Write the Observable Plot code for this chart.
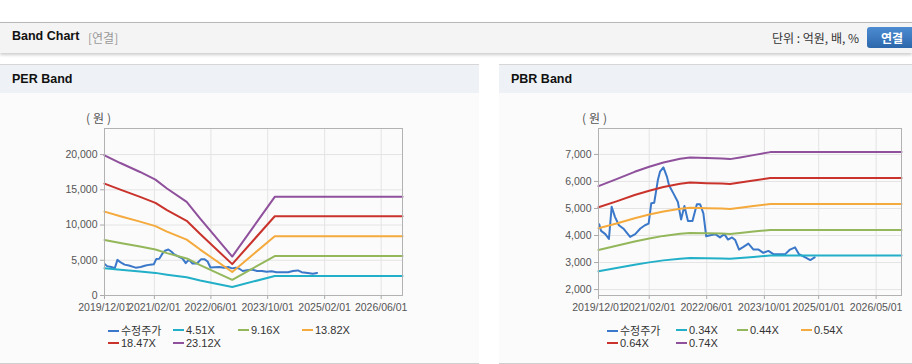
<!DOCTYPE html>
<html><head><meta charset="utf-8">
<script src="https://cdn.jsdelivr.net/npm/d3@7"></script>
<script src="https://cdn.jsdelivr.net/npm/@observablehq/plot@0.6"></script>
<style>
body{margin:0;width:912px;height:364px;position:relative;overflow:hidden;background:#fff;font-family:"Liberation Sans",Arial,"Noto Sans CJK KR",sans-serif;color:#222;}
.abs{position:absolute;white-space:nowrap;}
.hdr{position:absolute;left:0;top:22px;width:912px;height:30px;background:#f4f4f4;border-top:1px solid #b8b8b8;box-shadow:0 2px 3px rgba(0,0,0,.2);}
.panel{position:absolute;top:64px;height:298px;background:#fbfbfb;border-top:1px solid #d6d6d6;border-bottom:1px solid #cfcfcf;}
.ptitle{position:absolute;left:0;top:0;right:0;height:28px;background:#eef2f6;}
.bold{font-weight:bold;font-size:12.5px;color:#111;}
.kr{font-family:"Noto Sans CJK KR",sans-serif;}
.btn{position:absolute;left:867px;top:27px;width:50px;height:21px;border-radius:3px;background:linear-gradient(#4d8cd2,#2c67ab);color:#fff;font-weight:bold;font-size:12px;line-height:21px;text-align:center;}
.unit{font-family:"Noto Sans CJK KR",sans-serif;font-size:12px;color:#555;letter-spacing:3px;}
.lg{position:absolute;white-space:nowrap;font-size:11px;color:#333;line-height:13px;}
.lg i{display:inline-block;width:11px;height:2px;vertical-align:middle;margin-right:2px;position:relative;top:-1px;}
svg text{font-family:"Liberation Sans Narrow","Liberation Sans",Arial,sans-serif;}
</style></head>
<body>
<div class="hdr"></div>
<div class="abs bold" style="left:12px;top:29px;">Band Chart</div>
<div class="abs kr" style="left:88px;top:29px;font-size:12px;color:#999;">[연결]</div>
<div class="abs kr" style="right:53px;top:29px;font-size:12px;color:#333;">단위 : 억원, 배, %</div>
<div class="btn kr">연결</div>

<div class="panel" style="left:0;width:479px;"><div class="ptitle"></div></div>
<div class="panel" style="left:499px;width:413px;"><div class="ptitle"></div></div>
<div class="abs bold" style="left:12px;top:72px;">PER Band</div>
<div class="abs bold" style="left:511px;top:72px;">PBR Band</div>
<div class="abs unit" style="left:86px;top:109px;">(원)</div>
<div class="abs unit" style="left:582px;top:109px;">(원)</div>

<div id="per" class="abs" style="left:0;top:93px;"></div>
<div id="pbr" class="abs" style="left:499px;top:93px;"></div>
<div id="legends"></div>

<script>
// ---------- data ----------
const priceName = "수정주가";
const priceDates = ["2019-12-07","2019-12-23","2020-01-28","2020-02-27","2020-03-21","2020-04-18","2020-05-21","2020-06-27","2020-08-24","2020-10-06","2020-11-18","2020-12-27","2021-01-27","2021-02-18","2021-03-15","2021-04-15","2021-05-03","2021-06-01","2021-07-01","2021-07-18","2021-08-24","2021-10-01","2021-10-28","2021-11-25","2021-12-25","2022-02-01","2022-03-10","2022-04-06","2022-05-04","2022-05-28","2022-07-01","2022-08-12","2022-09-21","2022-10-28","2022-11-28","2023-01-01","2023-01-28","2023-03-01","2023-04-07","2023-05-19","2023-07-01","2023-08-13","2023-09-22","2023-11-04","2023-12-16","2024-03-25","2024-05-04","2024-06-16","2024-07-19","2024-09-10","2024-10-22","2024-11-28"];
const priceValues = [4420,4170,4050,3870,5060,4690,4380,4260,3950,4050,4260,4380,4440,5190,5210,6050,6360,6520,6170,5860,5560,5240,4590,5090,4540,4540,5160,5160,4820,3970,4010,4050,3930,4050,3850,3930,3830,3480,3580,3700,3480,3480,3360,3430,3310,3310,3480,3560,3310,3190,3090,3190];

const perBandDates = ["2019-12-01","2020-04-15","2020-10-01","2021-02-10","2021-05-20","2021-11-05","2022-03-01","2022-12-01","2023-12-01","2026-12-01"];
const perLabels = ["4.51X","9.16X","13.82X","18.47X","23.12X"];
const per451  = [3880,3670,3420,3210,2960,2590,2130,1200,2780,2780];
const per916  = [7890,7450,6940,6520,6010,5260,4320,2220,5600,5600];
const per1382 = [11900,11240,10480,9840,9070,7930,6520,3330,8420,8420];
const per1847 = [15880,15020,14000,13150,12120,10600,8720,4450,11250,11250];
const per2312 = [19900,18800,17530,16450,15180,13280,10920,5520,14000,14000];
const perYTicks = [0,5000,10000,15000,20000];
const perXTicks = ["2019-12-01","2021-02-01","2022-06-01","2023-10-01","2025-02-01","2026-06-01"];

const pbrBandDates = ["2019-12-01","2020-05-01","2020-10-01","2021-02-01","2021-06-01","2021-10-20","2022-01-12","2022-06-01","2022-10-07","2022-12-15","2023-03-10","2023-07-01","2023-11-20","2026-12-01"];
const pbrLabels = ["0.34X","0.44X","0.54X","0.64X","0.74X"];
const pbr034 = [2678,2797,2921,3006,3080,3143,3165,3154,3148,3137,3165,3205,3260,3260];
const pbr044 = [3465,3619,3780,3890,3986,4067,4096,4081,4074,4059,4096,4147,4205,4205];
const pbr054 = [4270,4442,4639,4775,4892,4991,5027,5009,5000,4982,5027,5090,5165,5165];
const pbr064 = [5045,5264,5498,5659,5798,5916,5958,5937,5926,5904,5958,6033,6125,6125];
const pbr074 = [5828,6087,6357,6543,6704,6840,6889,6864,6852,6827,6889,6975,7086,7086];
const pbrYTicks = [2000,3000,4000,5000,6000,7000];
const pbrXTicks = ["2019-12-01","2021-02-01","2022-06-01","2023-10-01","2025-01-01","2026-05-01"];

const xStart = "2019-12-01", xEnd = "2026-12-01";
const priceColor = "#3b78c9";
const bandColors = ["#22afc8","#93b75a","#f4aa3c","#c9332c","#8f509c"];

// ---------- build ----------
const toRows = (dates, values) => dates.map((d, i) => ({date: new Date(d), value: values[i]}));
const priceRows = toRows(priceDates, priceValues);

function bandPlot({bandDates, bands, yDomain, yTicks, xTicks, width, marginLeft, marginRight}) {
  const xt = xTicks.map(d => new Date(d));
  return Plot.plot({
    width, height: 230,
    marginLeft, marginRight, marginTop: 35, marginBottom: 28,
    style: {background: "transparent", fontSize: "10.5px", color: "#555"},
    x: {type: "utc", domain: [new Date(xStart), new Date(xEnd)]},
    y: {domain: yDomain},
    marks: [
      Plot.gridX(xt, {stroke: "#e4e4e4", strokeOpacity: 1}),
      Plot.gridY(yTicks, {stroke: "#e4e4e4", strokeOpacity: 1}),
      Plot.axisX(xt, {tickFormat: d3.utcFormat("%Y/%m/%d"), tickSize: 4, tickPadding: 4, stroke: "#aaa", fill: "#555", label: null}),
      Plot.axisY(yTicks, {tickFormat: d3.format(","), tickSize: 4, tickPadding: 3, stroke: "#aaa", fill: "#555", label: null}),
      Plot.line(priceRows, {x: "date", y: "value", stroke: priceColor, strokeWidth: 2}),
      ...bands.map((vals, i) => Plot.line(toRows(bandDates, vals), {x: "date", y: "value", stroke: bandColors[i], strokeWidth: 2})),
      Plot.frame({stroke: "#b2b2b2"})
    ]
  });
}

document.getElementById("per").append(bandPlot({
  bandDates: perBandDates, bands: [per451, per916, per1382, per1847, per2312],
  yDomain: [0, 23700], yTicks: perYTicks, xTicks: perXTicks,
  width: 479, marginLeft: 104, marginRight: 77
}));
document.getElementById("pbr").append(bandPlot({
  bandDates: pbrBandDates, bands: [pbr034, pbr044, pbr054, pbr064, pbr074],
  yDomain: [1780, 7960], yTicks: pbrYTicks, xTicks: pbrXTicks,
  width: 413, marginLeft: 99, marginRight: 11
}));

// legends
function legend(labels, cols, rowsY) {
  const names = [priceName, ...labels];
  const colors = [priceColor, ...bandColors];
  const box = document.getElementById("legends");
  names.forEach((n, i) => {
    const d = document.createElement("div");
    d.className = "lg";
    d.style.left = cols[i % 4] + "px";
    d.style.top = (rowsY[Math.floor(i / 4)] - 6.5) + "px";
    d.innerHTML = `<i style="background:${colors[i]}"></i><span${i === 0 ? ' class="kr"' : ''}>${n}</span>`;
    box.append(d);
  });
}
legend(perLabels, [108, 173, 238, 302], [330, 343]);
legend(pbrLabels, [607, 676, 737, 801], [330, 343]);
</script>
</body></html>
